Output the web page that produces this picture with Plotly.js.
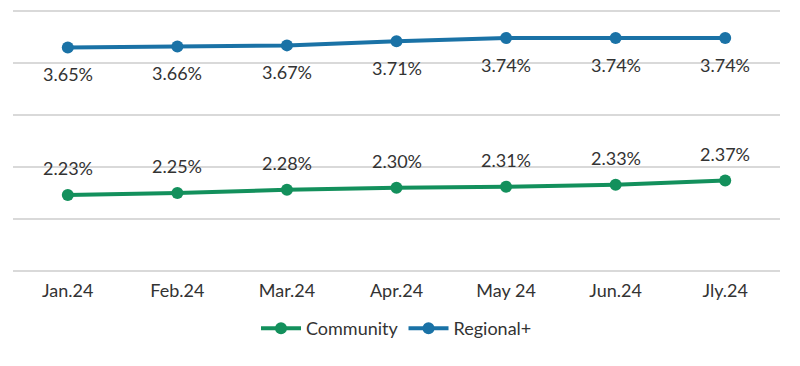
<!DOCTYPE html>
<html>
<head>
<meta charset="utf-8">
<script src="https://cdn.plot.ly/plotly-3.0.1.min.js"></script>
<style>html,body{margin:0;padding:0;background:#fff;}#chart{width:800px;height:366px;}</style>
</head>
<body>
<div id="chart"></div>
<script>
var months = ["Jan.24", "Feb.24", "Mar.24", "Apr.24", "May 24", "Jun.24", "Jly.24"];
var community = [2.23, 2.25, 2.28, 2.30, 2.31, 2.33, 2.37];
var regional = [3.65, 3.66, 3.67, 3.71, 3.74, 3.74, 3.74];
var seriesNames = ["Community", "Regional+"];

function labels(arr) { return arr.map(function (v) { return v.toFixed(2) + "%"; }); }

var font = "Lato, 'Open Sans', sans-serif";
var textColor = "#333333";
var traces = [
  {
    x: months, y: community, name: seriesNames[0], type: "scatter", mode: "lines+markers",
    line: {color: "#13905c", width: 4}, marker: {color: "#13905c", size: 12}, hoverinfo: "skip"
  },
  {
    x: months, y: regional, name: seriesNames[1], type: "scatter", mode: "lines+markers",
    line: {color: "#1a72a6", width: 4}, marker: {color: "#1a72a6", size: 12}, hoverinfo: "skip"
  }
];

var annotations = [];
months.forEach(function (m, i) {
  annotations.push({x: m, y: community[i], text: labels(community)[i], showarrow: false,
    yshift: 27, font: {family: font, size: 18, color: textColor}});
  annotations.push({x: m, y: regional[i], text: labels(regional)[i], showarrow: false,
    yshift: -27, font: {family: font, size: 18, color: textColor}});
});

var layout = {
  width: 800, height: 366,
  margin: {l: 13, r: 20, t: 9, b: 93},
  paper_bgcolor: "#ffffff", plot_bgcolor: "#ffffff",
  font: {family: font, size: 18, color: textColor},
  showlegend: true,
  annotations: annotations,
  legend: {orientation: "h", x: 0.5, xanchor: "center", y: -0.14, yanchor: "top",
           font: {family: font, size: 18, color: textColor}, itemwidth: 40, tracegroupgap: 0},
  xaxis: {type: "category", range: [-0.5, 6.5], showgrid: false, zeroline: false, showline: false,
          ticks: "outside", ticklen: 1, tickcolor: "rgba(0,0,0,0)",
          tickfont: {family: font, size: 18, color: textColor}, fixedrange: true},
  yaxis: {range: [1.48, 4.02], dtick: 0.5, tick0: 1.5, showgrid: true, gridcolor: "#d9d9d9", gridwidth: 1.5,
          zeroline: false, showline: false, showticklabels: false, ticks: "", fixedrange: true}
};

Plotly.newPlot("chart", traces, layout, {displayModeBar: false, staticPlot: true});
</script>
</body>
</html>
